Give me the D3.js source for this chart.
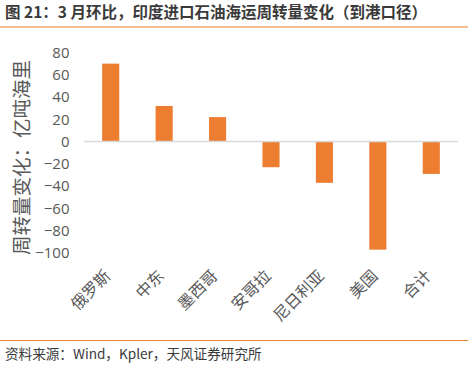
<!DOCTYPE html>
<html><head><meta charset="utf-8">
<script src="https://cdn.jsdelivr.net/npm/d3@7/dist/d3.min.js"></script>
<style>
body{margin:0;background:#fff;}
svg{display:block;}
</style></head>
<body>
<svg id="c" width="468" height="365"></svg>
<script>
const categories = ["俄罗斯","中东","墨西哥","安哥拉","尼日利亚","美国","合计"];
const values = [70, 32, 22, -23, -37, -97, -29];
const yTicks = [80,60,40,20,0,-20,-40,-60,-80,-100];
const title = "图 21：3 月环比，印度进口石油海运周转量变化（到港口径）";
const yLabel = "周转量变化：亿吨海里";
const source = "资料来源：Wind，Kpler，天风证券研究所";

const svg = d3.select("#c");
const cjk = "'Noto Sans CJK SC', 'Noto Sans', sans-serif";
const num = "'Open Sans', 'Noto Sans', sans-serif";

// title
svg.append("text").attr("x",5).attr("y",18).attr("font-family",cjk)
  .attr("font-size",15.5).attr("font-weight","bold").attr("fill","#3a3a3a").text(title);
svg.append("line").attr("x1",0).attr("x2",468).attr("y1",27).attr("y2",27)
  .attr("stroke","#E8822A").attr("stroke-width",1.2);

const x = d3.scaleBand().domain(categories).range([84,458]).paddingInner(0.68).paddingOuter(0.34);
const y = d3.scaleLinear().domain([-100,80]).range([253,52.5]);

// bars
svg.append("g").selectAll("rect").data(values).join("rect")
  .attr("x",(d,i)=>x(categories[i]))
  .attr("width",x.bandwidth())
  .attr("y",d=>y(Math.max(0,d)))
  .attr("height",d=>Math.abs(y(d)-y(0)))
  .attr("fill","#ED7D31");

// zero line
svg.append("line").attr("x1",84).attr("x2",458).attr("y1",y(0)).attr("y2",y(0))
  .attr("stroke","#d9d9d9").attr("stroke-width",1.5);

// y axis
const yAxis = d3.axisLeft(y).tickValues(yTicks).tickSize(0).tickPadding(0);
const gy = svg.append("g").attr("transform","translate(69.5,0)").call(yAxis);
gy.select(".domain").remove();
gy.selectAll("text").attr("font-family",num).attr("font-size",15).attr("fill","#595959");

// x labels
const gx = svg.append("g");
gx.selectAll("text").data(categories).join("text")
  .attr("transform",d=>`translate(${x(d)+x.bandwidth()/2-3},${y(-100)+20}) rotate(-45)`)
  .attr("text-anchor","end").attr("dy","0.35em")
  .attr("font-family",cjk).attr("font-size",16).attr("fill","#595959").text(d=>d);

// y label
svg.append("text").attr("transform",`translate(22,${(60+255)/2}) rotate(-90)`)
  .attr("text-anchor","middle").attr("dy","0.35em")
  .attr("font-family",cjk).attr("font-size",19.5).attr("fill","#595959").text(yLabel);

// bottom line & source
svg.append("line").attr("x1",0).attr("x2",468).attr("y1",340.5).attr("y2",340.5)
  .attr("stroke","#E8822A").attr("stroke-width",1.2);
svg.append("text").attr("x",5).attr("y",359).attr("font-family",cjk)
  .attr("font-size",13.6).attr("fill","#3a3a3a").text(source);
</script>
</body></html>
